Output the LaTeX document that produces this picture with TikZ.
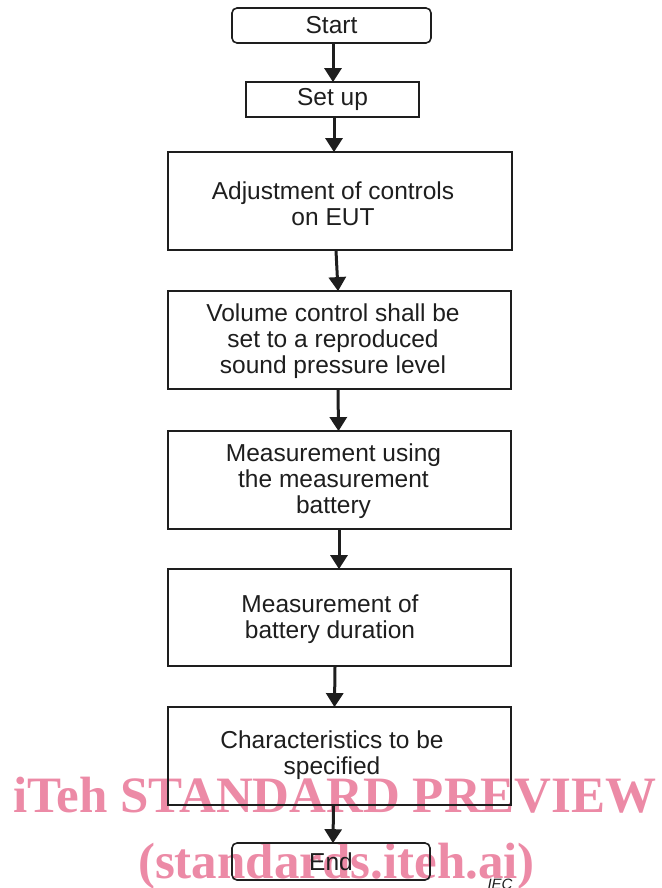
\documentclass[tikz,border=0pt]{standalone}
\usepackage{fontspec}
\setmainfont{Liberation Sans}
\newfontfamily\wmfont{Liberation Serif}
\usetikzlibrary{arrows.meta}
\definecolor{wmpink}{RGB}{236,138,166}
\definecolor{ink}{RGB}{30,30,30}
\tikzset{
  boxnode/.style={draw=ink, line width=1.8pt, minimum width=#1, inner sep=0pt},
  termnode/.style={draw=ink, line width=1.6pt, rounded corners=5pt, inner sep=0pt},
  txtnode/.style={align=center, font=\fontsize{24.5}{25.8}\selectfont, text=ink, inner sep=0pt},
  arr/.style={draw=ink, line width=3pt, -{Triangle[length=14pt,width=17pt]}, shorten >=-1pt},
  wmnode/.style={font=\wmfont\bfseries\fontsize{51}{56}\selectfont, text=wmpink, anchor=base, inner sep=0pt}
}
\begin{document}
\begin{tikzpicture}[x=1pt,y=-1pt]
\useasboundingbox (0,0) rectangle (661,888);
% watermark (drawn beneath)
\node[wmnode] (wm1) at (335,812) {iTeh STANDARD PREVIEW};
\node[wmnode] (wm2) at (336.5,878) {(standards.iteh.ai)};
% boxes
\node[termnode, minimum width=199pt, minimum height=35pt, txtnode] (b1) at (331.5,25.5) {Start};
\node[boxnode=173pt, minimum height=35pt, txtnode] (b2) at (332.5,99.5) {Set up};
\node[boxnode=344pt, minimum height=98pt] (b3) at (340,201) {};
\node[txtnode] (t3) at (333,204) {Adjustment of controls\\on EUT};
\node[boxnode=343pt, minimum height=98pt] (b4) at (339.5,340) {};
\node[txtnode] (t4) at (333,341) {Volume control shall be\\set to a reproduced\\sound pressure level};
\node[boxnode=343pt, minimum height=98pt] (b5) at (339.5,480) {};
\node[txtnode] (t5) at (333.5,481) {Measurement using\\the measurement\\battery};
\node[boxnode=343pt, minimum height=97pt] (b6) at (339.5,617.5) {};
\node[txtnode] (t6) at (330,619) {Measurement of\\battery duration};
\node[boxnode=343pt, minimum height=98pt] (b7) at (339.5,756) {};
\node[txtnode] (t7) at (332,755) {Characteristics to be\\specified};
\node[termnode, minimum width=198pt, minimum height=37pt, txtnode] (b8) at (331,861.5) {End};
% connectors
\draw[arr] ([xshift=1.5pt]b1.south) -- ([xshift=0.5pt]b2.north);
\draw[arr] ([xshift=1.5pt]b2.south) -- ([xshift=-6pt]b3.north);
\draw[arr] ([xshift=-4pt]b3.south) -- ([xshift=-1.5pt]b4.north);
\draw[arr] ([xshift=-1.5pt]b4.south) -- ([xshift=-1pt]b5.north);
\draw[arr] ([xshift=-0.5pt]b5.south) -- ([xshift=-0.5pt]b6.north);
\draw[arr] ([xshift=-4.5pt]b6.south) -- ([xshift=-5pt]b7.north);
\draw[arr] ([xshift=-6pt]b7.south) -- ([xshift=2pt]b8.north);
% IEC mark
\node[font=\itshape\fontsize{15}{15}\selectfont, text=ink, anchor=base, inner sep=0pt] (iec) at (500,889) {IEC};
\end{tikzpicture}
\end{document}
